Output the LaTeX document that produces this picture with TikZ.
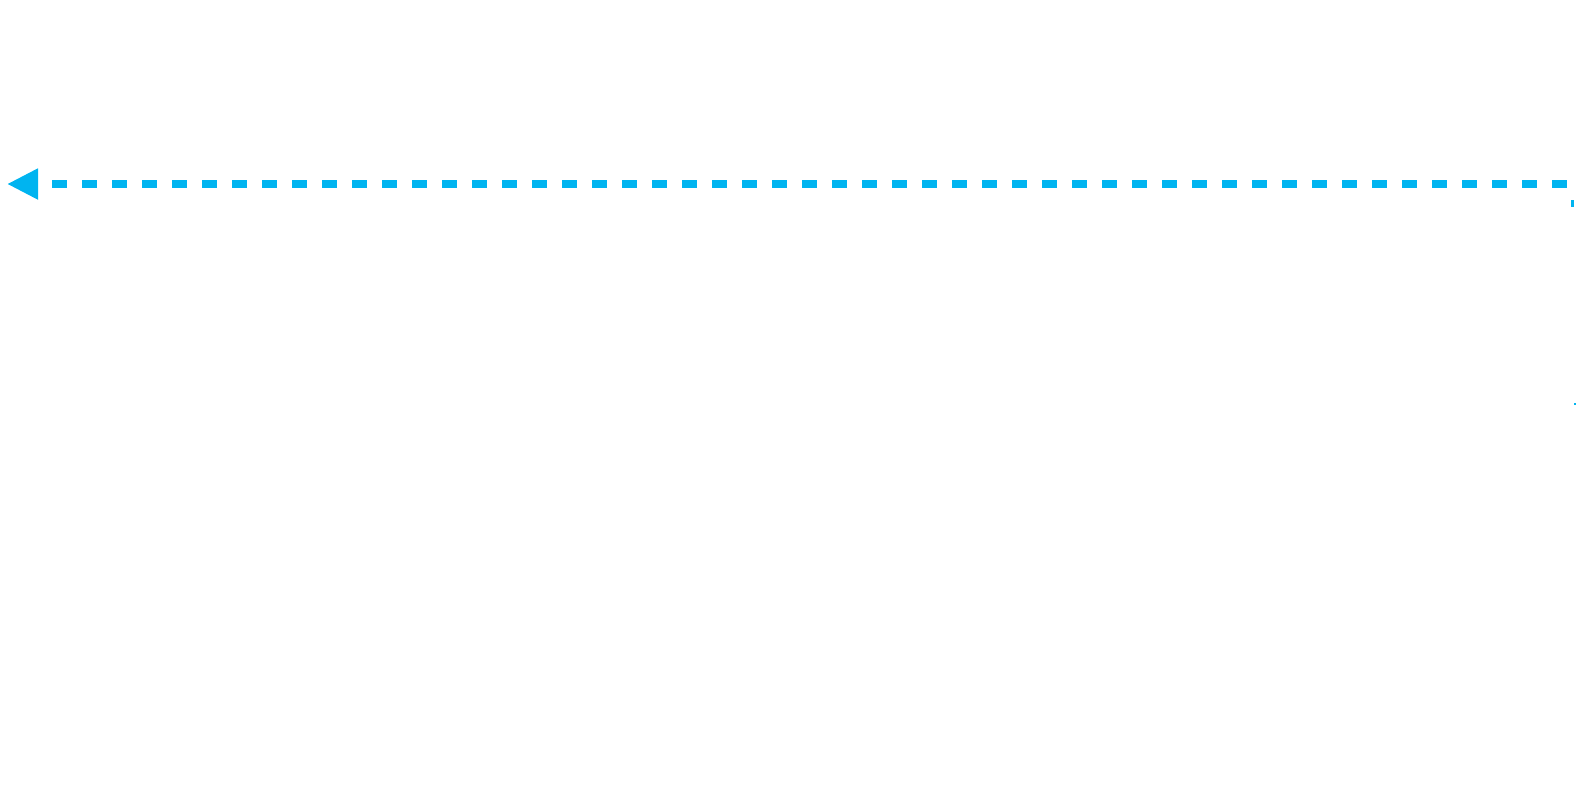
\documentclass[tikz,border=0pt]{standalone}
\usetikzlibrary{arrows.meta}
\definecolor{lineblue}{HTML}{00B4F0}
\begin{document}
\begin{tikzpicture}[x=1pt,y=-1pt,
  conn/.style={draw=lineblue,line width=8pt,dash pattern=on 15pt off 15pt},
  tip/.style={-{Triangle[length=31pt,width=29pt,fill=lineblue]}}]
\useasboundingbox (0,0) rectangle (1579,788);
\coordinate (start) at (1567,184);
\coordinate (end) at (7,184);
\coordinate (tickA) at (1572.5,200);
\coordinate (tickB) at (1572.5,207);
\coordinate (dotA) at (1575,403);
\coordinate (dotB) at (1575,405);
\draw[conn,tip] (start) -- (end);
\draw[draw=lineblue,line width=3pt] (tickA) -- (tickB);
\draw[draw=lineblue,line width=1.5pt] (dotA) -- (dotB);
\end{tikzpicture}
\end{document}
